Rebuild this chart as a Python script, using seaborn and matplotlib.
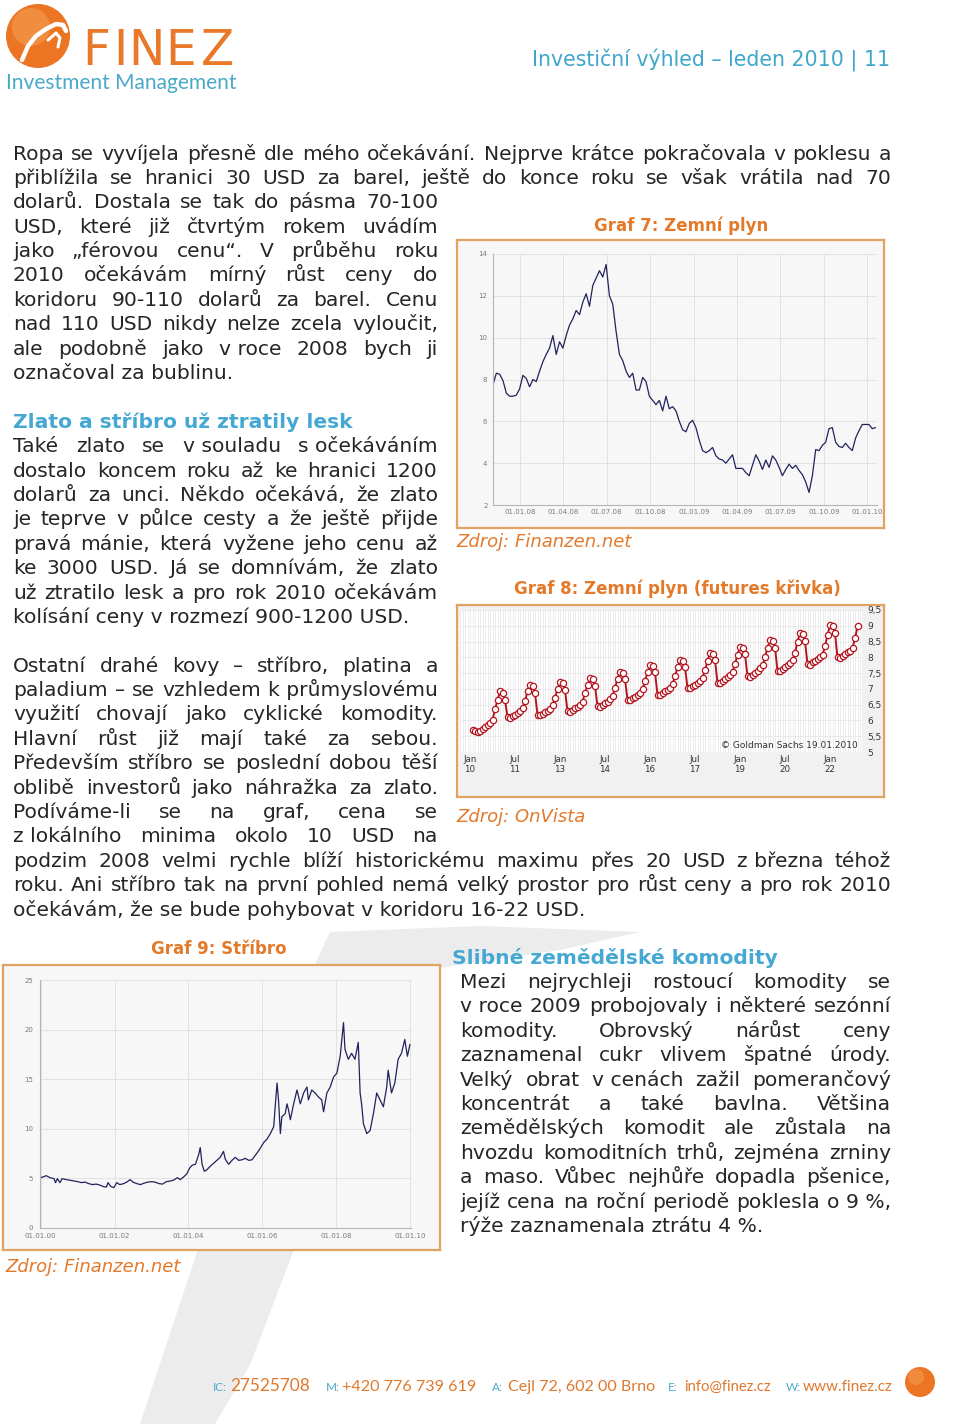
import numpy as np
import pandas as pd
import seaborn as sns
import matplotlib.pyplot as plt
from matplotlib.patches import Circle, Polygon
from matplotlib.lines import Line2D
from matplotlib.transforms import IdentityTransform

# --- Graf 7: natural gas, weekly readings Nov 2007 - Jan 2010 ---
gas_start, gas_end = "2007-11-05", "2010-01-18"
gas_price = [7.75, 8.3, 8.25, 7.95, 7.35, 7.2, 7.2, 7.25, 7.55, 8.2,
             8.05, 7.65, 8.0, 7.9, 8.4, 8.85, 9.2, 9.5, 10.1, 9.2,
             9.8, 9.5, 10.1, 10.6, 10.9, 11.3, 11.1, 11.7, 12.1, 11.5,
             12.5, 12.85, 13.2, 12.9, 13.5, 12.0, 11.6, 10.3, 9.2, 8.9,
             8.4, 8.1, 8.3, 7.5, 7.5, 8.1, 7.9, 7.2, 7.0, 6.8,
             7.0, 6.5, 7.2, 6.6, 6.7, 6.5, 6.0, 5.6, 5.5, 5.9,
             6.05, 5.7, 5.1, 4.6, 4.5, 4.6, 4.75, 4.35, 4.2, 4.15,
             4.0, 4.2, 4.4, 3.75, 3.75, 3.75, 3.55, 3.4, 3.9, 4.4,
             4.1, 3.7, 4.15, 3.8, 4.35, 4.15, 3.8, 3.4, 3.7, 3.95,
             3.75, 3.9, 3.65, 3.45, 3.1, 2.6, 3.4, 4.65, 4.6, 4.85,
             5.0, 5.65, 5.7, 5.0, 4.8, 4.75, 4.95, 4.75, 4.6, 5.2,
             5.55, 5.85, 5.85, 5.85, 5.65, 5.7]

# --- Graf 8: natural gas futures curve, monthly Feb 2010 - Dec 2022 ---
futures_price = [
    5.70, 5.68, 5.62, 5.66, 5.74, 5.80, 5.86, 5.92, 6.02, 6.35, 6.65,
    6.92, 6.88, 6.65, 6.10, 6.08, 6.13, 6.18, 6.23, 6.30, 6.40, 6.62, 6.92,
    7.12, 7.08, 6.87, 6.18, 6.17, 6.21, 6.26, 6.31, 6.37, 6.48, 6.72, 7.00,
    7.22, 7.18, 6.97, 6.29, 6.28, 6.33, 6.38, 6.43, 6.50, 6.60, 6.86, 7.13,
    7.33, 7.30, 7.10, 6.45, 6.44, 6.49, 6.55, 6.60, 6.68, 6.78, 7.04, 7.32,
    7.54, 7.50, 7.31, 6.66, 6.65, 6.70, 6.75, 6.81, 6.88, 6.99, 7.25, 7.52,
    7.75, 7.72, 7.52, 6.82, 6.81, 6.87, 6.93, 6.98, 7.04, 7.15, 7.40, 7.68,
    7.92, 7.89, 7.70, 7.03, 7.03, 7.08, 7.13, 7.19, 7.26, 7.36, 7.60, 7.88,
    8.15, 8.12, 7.90, 7.20, 7.19, 7.25, 7.31, 7.38, 7.45, 7.55, 7.80, 8.08,
    8.34, 8.31, 8.10, 7.40, 7.38, 7.45, 7.51, 7.58, 7.65, 7.75, 8.00, 8.30,
    8.55, 8.52, 8.31, 7.57, 7.56, 7.63, 7.69, 7.76, 7.81, 7.90, 8.15, 8.50,
    8.77, 8.74, 8.52, 7.78, 7.77, 7.84, 7.89, 7.94, 8.00, 8.08, 8.35, 8.70,
    9.03, 9.00, 8.76, 8.00, 7.98, 8.05, 8.12, 8.17, 8.21, 8.30, 8.60, 8.98]
futures_tick_labels = ["Jan\n10", "Jul\n11", "Jan\n13", "Jul\n14", "Jan\n16",
                       "Jul\n17", "Jan\n19", "Jul\n20", "Jan\n22"]

# --- Graf 9: silver 2000 - 2010 ---
silver_year = [2000.00, 2000.08, 2000.15, 2000.25, 2000.36, 2000.40, 2000.45, 2000.52, 2000.58, 2000.70, 2000.85,
               2001.00, 2001.10, 2001.20, 2001.30, 2001.40, 2001.50, 2001.60, 2001.70, 2001.78, 2001.82, 2001.90, 2001.98,
               2002.06, 2002.14, 2002.25, 2002.35, 2002.42, 2002.50, 2002.60, 2002.70, 2002.80, 2002.90,
               2003.00, 2003.10, 2003.20, 2003.30, 2003.40, 2003.50, 2003.60, 2003.70, 2003.78, 2003.86, 2003.95,
               2004.03, 2004.10, 2004.19, 2004.28, 2004.32, 2004.37, 2004.43, 2004.50, 2004.59, 2004.68, 2004.77, 2004.86, 2004.95,
               2005.00, 2005.09, 2005.18, 2005.27, 2005.36, 2005.45, 2005.54, 2005.63, 2005.72, 2005.81, 2005.90,
               2006.04, 2006.13, 2006.22, 2006.31, 2006.35, 2006.40, 2006.44, 2006.49, 2006.53, 2006.62, 2006.67, 2006.71, 2006.76, 2006.85, 2006.94,
               2007.03, 2007.12, 2007.21, 2007.25, 2007.34, 2007.43, 2007.52, 2007.61, 2007.66, 2007.75, 2007.84, 2007.93,
               2008.02, 2008.11, 2008.20, 2008.24, 2008.33, 2008.42, 2008.51, 2008.60, 2008.65, 2008.69, 2008.74, 2008.83, 2008.92,
               2009.01, 2009.10, 2009.19, 2009.28, 2009.37, 2009.41, 2009.50, 2009.59, 2009.68, 2009.77, 2009.86, 2009.93, 2010.00]
silver_price = [5.05, 5.15, 5.25, 5.05, 4.95, 4.55, 4.95, 4.55, 4.95, 4.85, 4.75,
                4.65, 4.55, 4.6, 4.45, 4.35, 4.4, 4.3, 4.15, 4.1, 4.55, 4.15, 4.05,
                4.55, 4.35, 4.45, 4.65, 4.85, 4.6, 4.45, 4.35, 4.5, 4.6,
                4.65, 4.6, 4.45, 4.4, 4.65, 4.7, 4.8, 5.05, 4.85, 5.1, 5.4,
                6.0, 6.3, 6.4, 7.4, 8.1, 6.4, 5.7, 5.85, 6.2, 6.5, 6.8, 7.1, 7.7,
                6.9, 6.4, 6.8, 7.1, 6.8, 6.85, 7.0, 6.8, 6.85, 7.3, 7.75,
                8.6, 8.95, 9.5, 10.2, 12.2, 14.6, 12.9, 9.5, 11.2, 11.5, 12.5, 11.9, 10.9, 12.5, 13.9,
                12.5, 13.6, 14.2, 12.9, 13.9, 13.6, 13.2, 12.9, 11.7, 13.6, 14.2, 15.2,
                15.6, 17.3, 20.7, 18.0, 17.0, 17.6, 17.0, 18.7, 13.6, 12.5, 10.5, 9.5, 9.8,
                11.5, 13.6, 12.9, 12.2, 14.2, 15.9, 13.6, 14.6, 17.0, 17.6, 19.0, 17.3, 18.5]

# --- page text (NBSP keeps one-letter prepositions with the next word) ---
par_oil_full = ["Ropa se vyvíjela přesně dle mého očekávání. Nejprve krátce pokračovala v poklesu a",
                "přiblížila se hranici 30 USD za barel, ještě do konce roku se však vrátila nad 70"]
par_oil_left = ["dolarů. Dostala se tak do pásma 70-100",
                "USD, které již čtvrtým rokem uvádím",
                "jako „férovou cenu“. V průběhu roku",
                "2010 očekávám mírný růst ceny do",
                "koridoru 90-110 dolarů za barel. Cenu",
                "nad 110 USD nikdy nelze zcela vyloučit,",
                "ale podobně jako v\u00a0roce 2008 bych ji",
                "označoval za bublinu."]
head_gold = "Zlato a stříbro už ztratily lesk"
par_gold = ["Také zlato se v\u00a0souladu s\u00a0očekáváním",
            "dostalo koncem roku až ke hranici 1200",
            "dolarů za unci. Někdo očekává, že zlato",
            "je teprve v půlce cesty a že ještě přijde",
            "pravá mánie, která vyžene jeho cenu až",
            "ke 3000 USD. Já se domnívám, že zlato",
            "už ztratilo lesk a pro rok 2010 očekávám",
            "kolísání ceny v rozmezí 900-1200 USD."]
par_metals_left = ["Ostatní drahé kovy – stříbro, platina a",
                   "paladium – se vzhledem k\u00a0průmyslovému",
                   "využití chovají jako cyklické komodity.",
                   "Hlavní růst již mají také za sebou.",
                   "Především stříbro se poslední dobou těší",
                   "oblibě investorů jako náhražka za zlato.",
                   "Podíváme-li se na graf, cena se",
                   "z\u00a0lokálního minima okolo 10 USD na"]
par_metals_full = ["podzim 2008 velmi rychle blíží historickému maximu přes 20 USD z\u00a0března téhož",
                   "roku. Ani stříbro tak na první pohled nemá velký prostor pro růst ceny a pro rok 2010",
                   "očekávám, že se bude pohybovat v koridoru 16-22 USD."]
head_agri = "Slibné zemědělské komodity"
par_agri = ["Mezi nejrychleji rostoucí komodity se",
            "v\u00a0roce 2009 probojovaly i některé sezónní",
            "komodity. Obrovský nárůst ceny",
            "zaznamenal cukr vlivem špatné úrody.",
            "Velký obrat v\u00a0cenách zažil pomerančový",
            "koncentrát a také bavlna. Většina",
            "zemědělských komodit ale zůstala na",
            "hvozdu komoditních trhů, zejména zrniny",
            "a maso. Vůbec nejhůře dopadla pšenice,",
            "jejíž cena na roční periodě poklesla o 9\u00a0%,",
            "rýže zaznamenala ztrátu 4\u00a0%."]
footer_labels = ["IC:", "M:", "A:", "E:", "W:"]
footer_values = ["27525708", "+420 776 739 619", "Cejl 72, 602 00 Brno", "info@finez.cz", "www.finez.cz"]

W, H = 960, 1424
TEAL = "#45a8d2"
ORANGE = "#e4792a"
BORDER = "#e2a263"
NAVY = "#22225c"
RED = "#b3151f"
BODY = 14.6
PITCH = 24.39
TOP = 159.5  # baseline of first body line

sns.set_style("white")
plt.rcParams["font.family"] = ["DejaVu Sans"]

fig = plt.figure(figsize=(W / 100, H / 100), dpi=100)
fig.patch.set_facecolor("white")
renderer = fig.canvas.get_renderer()
pix = IdentityTransform()


def fx(x):
    return x / W


def fy(y):
    return 1 - y / H


def rect(l, t, r, b):
    return [fx(l), fy(b), (r - l) / W, (b - t) / H]


def text_at(x, y, s, **kw):
    return fig.text(fx(x), fy(y), s, va="baseline", **kw)


def width_of(s, **kw):
    t = fig.text(0, 0, s, **kw)
    w = t.get_window_extent(renderer).width
    t.remove()
    return w


def fit_size(s, target, **kw):
    return 10 * target / width_of(s, fontsize=10, **kw)


def paragraph(lines, x0, x1, y0, last_left=True, **kw):
    # justified lines, word by word
    kw.setdefault("fontsize", BODY)
    for i, line in enumerate(lines):
        y = y0 + i * PITCH
        words = line.split(" ")
        if (last_left and i == len(lines) - 1) or len(words) == 1:
            text_at(x0, y, line, **kw)
            continue
        widths = [width_of(w, **kw) for w in words]
        gap = (x1 - x0 - sum(widths)) / (len(words) - 1)
        x = x0
        for w, wd in zip(words, widths):
            text_at(x, y, w, **kw)
            x += wd + gap


def chart_box(l, t, r, b, face):
    box = fig.add_axes(rect(l, t, r, b))
    box.set_facecolor(face)
    box.set_xticks([])
    box.set_yticks([])
    for s in box.spines.values():
        s.set_edgecolor(BORDER)
        s.set_linewidth(1.6)
    return box


def small_axes(ax, pad_x, pad_y):
    ax.patch.set_alpha(0)
    ax.grid(True, color="#dedede", lw=0.6)
    ax.set_axisbelow(True)
    for side in ["top", "right"]:
        ax.spines[side].set_visible(False)
    for side in ["left", "bottom"]:
        ax.spines[side].set_color("#b5b5b5")
        ax.spines[side].set_linewidth(0.8)
    ax.tick_params(axis="x", labelsize=5, colors="#7a7a7a", length=0, pad=pad_x)
    ax.tick_params(axis="y", labelsize=5, colors="#7a7a7a", length=0, pad=pad_y)
    ax.set_xlabel("")
    ax.set_ylabel("")


# background swoosh
swoosh = Polygon([(x, H - y) for x, y in [(330, 932), (480, 926), (640, 932), (560, 950),
                                           (440, 968), (380, 1100), (293, 1252), (250, 1365),
                                           (215, 1424), (140, 1424), (197, 1252), (260, 1080)]],
                 closed=True, transform=pix, facecolor="#ececec", edgecolor="none", zorder=-10)
fig.add_artist(swoosh)

# --- header / logo ---
fig.add_artist(Circle((38, H - 36), 32, transform=pix, facecolor="#ec7524", edgecolor="none"))
fig.add_artist(Circle((31, H - 27), 19, transform=pix, facecolor="#f5a257", edgecolor="none", alpha=0.55))
fig.add_artist(Line2D([22, 28, 36, 46, 56, 63, 66], [H - y for y in [60, 46, 36, 29, 24, 25, 31]],
                      transform=pix, color="white", lw=3.2, solid_capstyle="round"))
fig.add_artist(Line2D([48, 56, 60, 58], [H - y for y in [40, 33, 38, 47]],
                      transform=pix, color="white", lw=2.2, solid_capstyle="round"))
for letter, xl in zip("FINEZ", [82, 113, 128, 165, 201]):
    text_at(xl, 65, letter, fontsize=35, color="#e8782a")
brand = "Investment Management"
text_at(6, 89, brand, fontsize=fit_size(brand, 231, family=["Lato", "DejaVu Sans"]),
        color="#4aa9c9", family=["Lato", "DejaVu Sans"])
page_head = "Investiční výhled – leden 2010 | 11"
text_at(890, 66, page_head, fontsize=fit_size(page_head, 358), color="#3fa6cc", ha="right")

# --- body text ---
paragraph(par_oil_full, 13, 891, TOP, last_left=False)
paragraph(par_oil_left, 13, 438, TOP + 2 * PITCH)
text_at(13, TOP + 11 * PITCH, head_gold, fontsize=BODY, fontweight="bold", color=TEAL)
paragraph(par_gold, 13, 438, TOP + 12 * PITCH)
paragraph(par_metals_left, 13, 438, TOP + 21 * PITCH, last_left=False)
paragraph(par_metals_full, 13, 891, TOP + 29 * PITCH)
text_at(452, 964, head_agri, fontsize=BODY, fontweight="bold", color=TEAL)
paragraph(par_agri, 460, 891, 988)

# --- Graf 7 ---
text_at(681, 231, "Graf 7: Zemní plyn", ha="center", fontsize=12, fontweight="bold", color=ORANGE)
chart_box(457, 240, 884, 528, "#f7f7f7")
ax7 = fig.add_axes(rect(493, 254, 877, 505))
gas_dates = pd.date_range(gas_start, gas_end, periods=len(gas_price))
sns.lineplot(x=gas_dates, y=gas_price, ax=ax7, color=NAVY, lw=0.9)
gas_ticks = pd.date_range("2008-01-01", "2010-01-01", freq="QS")
ax7.set_xlim(gas_dates[0], pd.Timestamp("2010-01-21"))
ax7.set_ylim(2, 14)
ax7.set_yticks(range(2, 15, 2))
ax7.set_xticks(gas_ticks)
ax7.set_xticklabels(gas_ticks.strftime("%d.%m.%y"))
small_axes(ax7, 3, 4)
text_at(456, 547, "Zdroj: Finanzen.net", fontsize=13, style="italic", color=ORANGE)

# --- Graf 8 ---
text_at(677, 594, "Graf 8: Zemní plyn (futures křivka)", ha="center", fontsize=12, fontweight="bold", color=ORANGE)
chart_box(457, 605, 884, 797, "#f1f1f1")
ax8 = fig.add_axes(rect(461, 610, 862, 752))
ax8.set_facecolor("white")
futures_month = np.arange(1, len(futures_price) + 1)
sns.lineplot(x=futures_month, y=futures_price, ax=ax8, color=RED, lw=1.4, marker="o",
             markersize=4.5, markerfacecolor="white", markeredgecolor=RED, markeredgewidth=0.9)
ax8.set_xlim(-3.6, 156.8)
ax8.set_ylim(5, 9.5)
ax8.set_xticks(np.arange(0, 145, 18))
ax8.set_xticklabels(futures_tick_labels)
ax8.set_xticks(np.arange(-3, 157), minor=True)
y8 = np.arange(5, 9.51, 0.5)
ax8.set_yticks(y8)
ax8.set_yticklabels([f"{v:g}".replace(".", ",") for v in y8])
ax8.yaxis.tick_right()
ax8.grid(True, which="both", color="#e4e4e4", lw=0.5)
ax8.set_axisbelow(True)
for s in ax8.spines.values():
    s.set_visible(False)
ax8.tick_params(axis="x", which="both", labelsize=6.3, colors="#333333", length=0, pad=2)
ax8.tick_params(axis="y", labelsize=6.5, colors="#333333", length=0, pad=4)
ax8.set_xlabel("")
ax8.set_ylabel("")
text_at(858, 748, "© Goldman Sachs 19.01.2010", ha="right", fontsize=6.5, color="#333333")
text_at(456, 822, "Zdroj: OnVista", fontsize=13, style="italic", color=ORANGE)

# --- Graf 9 ---
text_at(219, 954, "Graf 9: Stříbro", ha="center", fontsize=12, fontweight="bold", color=ORANGE)
chart_box(3, 965, 440, 1250, "#f7f7f7")
ax9 = fig.add_axes(rect(40, 980, 410.7, 1227.7))
sns.lineplot(x=silver_year, y=silver_price, ax=ax9, color=NAVY, lw=0.9)
ax9.set_xlim(1999.98, 2010.02)
ax9.set_ylim(0, 25)
ax9.set_yticks(range(0, 26, 5))
ax9.set_xticks(range(2000, 2011, 2))
ax9.set_xticklabels([f"01.01.{y % 100:02d}" for y in range(2000, 2011, 2)])
small_axes(ax9, 4, 5)
text_at(5, 1272, "Zdroj: Finanzen.net", fontsize=13, style="italic", color=ORANGE)

# --- footer ---
foot_font = ["Lato", "DejaVu Sans"]
for lab, val, xl, xv, wv in zip(footer_labels, footer_values,
                                [213, 326, 492, 668, 786], [230, 342, 508, 684, 803],
                                [80, 134, 147, 87, 90]):
    text_at(xl, 1391, lab, fontsize=8.5, color="#4aa9c9", family=foot_font)
    text_at(xv, 1391, val, fontsize=fit_size(val, wv, family=foot_font), color="#e0782c", family=foot_font)
fig.add_artist(Circle((920, H - 1382), 15, transform=pix, facecolor="#ec7524", edgecolor="none"))
fig.add_artist(Circle((916, H - 1377), 8, transform=pix, facecolor="#f5a257", edgecolor="none", alpha=0.5))

fig.savefig("out.png", dpi=100)
